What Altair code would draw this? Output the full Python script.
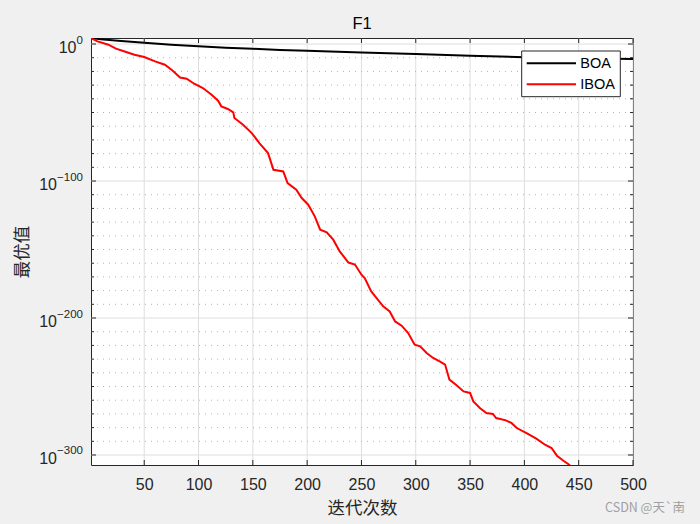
import altair as alt
import pandas as pd

# ---------------- data ----------------
SERIES = ["BOA", "IBOA"]
COLORS = ["#000000", "#ff0000"]

BOA_ITER = [1, 10, 26, 50, 75, 100, 125, 150, 175, 200, 250, 300, 350, 400, 450, 500]
BOA_EXP = [4.4, 3.4, 2.4, 1.0, -0.5, -1.7, -2.8, -3.5, -4.3, -4.9, -6.1, -7.3, -8.6, -9.6, -10.3, -10.9]

IBOA_ITER = [1, 7, 17, 24, 32, 41, 50, 60, 69, 76, 83, 89, 96, 104, 112, 118, 121, 127, 132,
             133, 136, 141, 149, 156, 164, 169, 178, 182, 190, 195, 201, 207, 212, 218, 224,
             230, 238, 244, 250, 253, 259, 270, 276, 281, 287, 293, 299, 304, 310, 316, 322,
             327, 331, 337, 344, 350, 353, 359, 365, 371, 374, 383, 388, 393, 402, 411, 419,
             425, 430, 436, 442]
IBOA_EXP = [4.3, 1.9, -0.5, -3.4, -5.4, -7.8, -9.5, -12.7, -15.1, -19.3, -24.4, -25.3, -29.0,
            -32.1, -37.0, -41.4, -45.5, -47.4, -49.9, -54.0, -55.8, -58.9, -65.0, -72.3, -79.6,
            -91.8, -93.0, -101.5, -106.4, -112.4, -117.3, -125.8, -135.5, -137.5, -142.8,
            -151.4, -159.5, -161.0, -168.4, -170.8, -180.6, -191.5, -195.2, -202.5, -205.6,
            -211.0, -219.5, -220.7, -225.5, -229.2, -231.7, -234.0, -245.0, -248.7, -253.6,
            -254.7, -260.9, -265.7, -269.3, -270.0, -273.0, -274.7, -276.6, -280.3, -284.0,
            -288.1, -292.5, -294.9, -300.5, -304.2, -307.5]

X_TICKS = [50, 100, 150, 200, 250, 300, 350, 400, 450, 500]
Y_MAJOR_EXP = [0, -100, -200, -300]
Y_MAJOR_LABEL = ["0", "\u2212100", "\u2212200", "\u2212300"]
Y_MINOR_EXP = [-10, -20, -30, -40, -50, -60, -70, -80, -90,
               -110, -120, -130, -140, -150, -160, -170, -180, -190,
               -210, -220, -230, -240, -250, -260, -270, -280, -290]
X_DOMAIN = [1, 500]
Y_DOMAIN_EXP = [-307.3, 4.4]

TITLE = "F1"
X_TITLE = "迭代次数"
Y_TITLE = "最优值"
WATERMARK = "CSDN @天`南"

# ---------------- tables ----------------
lines = pd.concat([
    pd.DataFrame({"iter": BOA_ITER, "val": [10.0 ** e for e in BOA_EXP], "s": "BOA"}),
    pd.DataFrame({"iter": IBOA_ITER, "val": [10.0 ** e for e in IBOA_EXP], "s": "IBOA"}),
])
xt = pd.DataFrame({"iter": X_TICKS})
ymaj = pd.DataFrame({"val": [10.0 ** e for e in Y_MAJOR_EXP], "lab": Y_MAJOR_LABEL})
ymin = pd.DataFrame({"val": [10.0 ** e for e in Y_MINOR_EXP]})

W, H = 542, 427
DARK = "#262626"
FONT = "Liberation Sans"
CJK = "Noto Sans CJK SC"

xs = alt.Scale(domain=X_DOMAIN, nice=False, zero=False)
ys = alt.Scale(type="log", domain=[10.0 ** Y_DOMAIN_EXP[0], 10.0 ** Y_DOMAIN_EXP[1]], nice=False)

XAX = alt.Axis(
    values=X_TICKS, title=X_TITLE, grid=False, domain=False, ticks=False,
    labelFont=FONT, labelFontSize=16, labelColor=DARK, labelPadding=11,
    labelFlush=False, labelOverlap=False,
    titleFont=CJK, titleFontSize=17.5, titleFontWeight="normal", titleColor=DARK,
    titleX=W / 2, titleY=43, titleBaseline="middle", titleAlign="center")
YAX = alt.Axis(
    labels=False, ticks=False, domain=False, grid=False, title=Y_TITLE,
    titleFont=CJK, titleFontSize=17.5, titleFontWeight="normal", titleColor=DARK,
    titleX=-69, titleY=H / 2, titleAngle=-90, titleBaseline="middle", titleAlign="center")


def X():
    return alt.X("iter:Q", scale=xs, axis=XAX)


def Y():
    return alt.Y("val:Q", scale=ys, axis=YAX)


# grid
xgrid = alt.Chart(xt).mark_rule(color="#dedede", strokeWidth=1).encode(
    x=X(), y=alt.value(0), y2=alt.value(H))
ygrid = alt.Chart(ymaj).mark_rule(color="#dedede", strokeWidth=1).encode(
    y=Y(), x=alt.value(0), x2=alt.value(W))
yminor = alt.Chart(ymin).mark_rule(color="#b4b4b4", strokeWidth=1, strokeDash=[1, 5]).encode(
    y=Y(), x=alt.value(0), x2=alt.value(W))

# inward ticks
tick_style = dict(color=DARK, strokeWidth=1)
xt_bot = alt.Chart(xt).mark_rule(**tick_style).encode(x=X(), y=alt.value(H), y2=alt.value(H - 5))
xt_top = alt.Chart(xt).mark_rule(**tick_style).encode(x=X(), y=alt.value(0), y2=alt.value(5))
yt_l = alt.Chart(ymaj).mark_rule(**tick_style).encode(y=Y(), x=alt.value(0), x2=alt.value(5))
yt_r = alt.Chart(ymaj).mark_rule(**tick_style).encode(y=Y(), x=alt.value(W), x2=alt.value(W - 5))
ymt_l = alt.Chart(ymin).mark_rule(**tick_style).encode(y=Y(), x=alt.value(0), x2=alt.value(3))
ymt_r = alt.Chart(ymin).mark_rule(**tick_style).encode(y=Y(), x=alt.value(W), x2=alt.value(W - 3))

# data lines
line = alt.Chart(lines).mark_line(strokeWidth=2, clip=True).encode(
    x=X(), y=Y(),
    color=alt.Color("s:N", scale=alt.Scale(domain=SERIES, range=COLORS), legend=None),
    order=alt.Order("iter:Q"),
)

# y tick labels: 10^exp
lab_style = dict(font=FONT, color=DARK)
exp_lab = alt.Chart(ymaj).mark_text(align="right", baseline="middle", fontSize=11.5, dy=-3.5,
                                    **lab_style).encode(y=Y(), x=alt.value(-8), text="lab:N")
ten0 = alt.Chart(ymaj[ymaj["lab"] == "0"]).mark_text(
    align="right", baseline="middle", fontSize=16, dy=4, **lab_style).encode(
    y=Y(), x=alt.value(-14.5), text=alt.value("10"))
tenN = alt.Chart(ymaj[ymaj["lab"] != "0"]).mark_text(
    align="right", baseline="middle", fontSize=16, dy=4, **lab_style).encode(
    y=Y(), x=alt.value(-34), text=alt.value("10"))

# title
title = alt.Chart(pd.DataFrame({"t": [TITLE]})).mark_text(
    align="center", baseline="middle", fontSize=16.5, font=FONT, color="#000000").encode(
    x=alt.value(W / 2), y=alt.value(-14.5), text="t:N")

# legend (manual, MATLAB style)
leg_df = pd.DataFrame({"s": SERIES, "c": COLORS})
leg_box = alt.Chart(pd.DataFrame({"a": [0]})).mark_rect(
    fill="white", stroke=DARK, strokeWidth=1).encode(
    x=alt.value(430.7), x2=alt.value(529.3), y=alt.value(13), y2=alt.value(58.7))
leg_layers = []
for i, (name, col) in enumerate(zip(SERIES, COLORS)):
    yy = 25.3 + 21 * i
    d = leg_df[leg_df["s"] == name]
    leg_layers.append(alt.Chart(d).mark_rule(color=col, strokeWidth=2).encode(
        x=alt.value(435.7), x2=alt.value(485), y=alt.value(yy)))
    leg_layers.append(alt.Chart(d).mark_text(
        align="left", baseline="middle", fontSize=14.5, font=FONT, color="#000000").encode(
        x=alt.value(489.3), y=alt.value(yy + 1), text="s:N"))

wm = alt.Chart(pd.DataFrame({"t": [WATERMARK]})).mark_text(
    align="right", baseline="middle", fontSize=12.5, font=CJK, color="#a0a0a0").encode(
    x=alt.value(594), y=alt.value(470), text="t:N")

chart = alt.layer(
    xgrid, ygrid, yminor, line, xt_bot, xt_top, yt_l, yt_r, ymt_l, ymt_r,
    exp_lab, ten0, tenN, title, leg_box, *leg_layers, wm
).properties(
    width=W, height=H,
    autosize=alt.AutoSizeParams(type="none"),
    padding={"left": 91, "top": 38, "right": 67, "bottom": 59},
    background="#f0f0f0",
).configure_view(stroke=DARK, strokeWidth=1, fill="white")

chart.save("out.html", embed_options={"renderer": "svg", "actions": False})
